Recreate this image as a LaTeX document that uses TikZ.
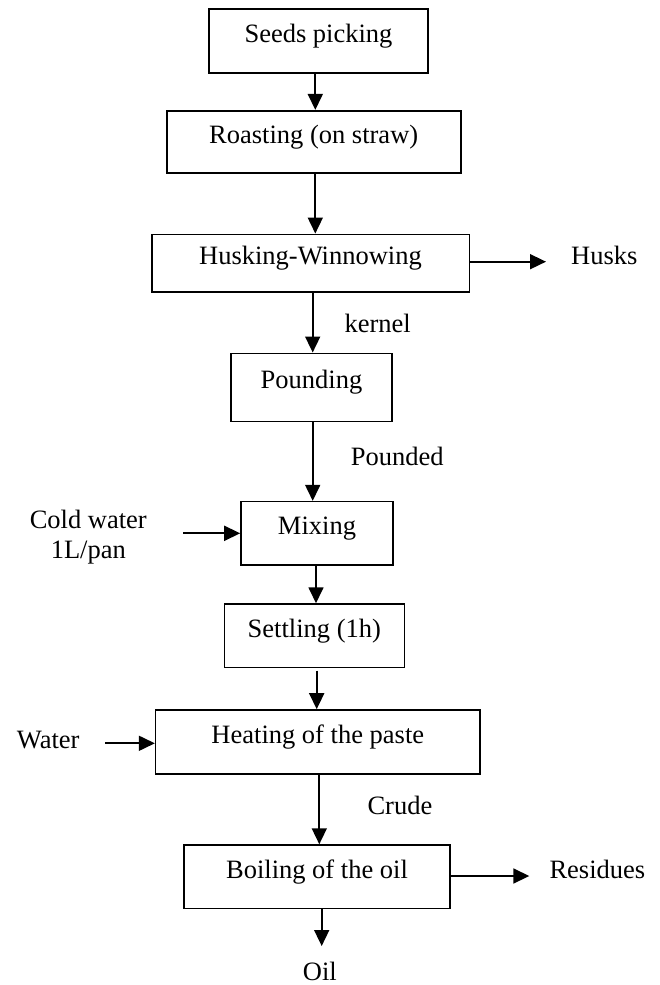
\documentclass[tikz,border=0pt]{standalone}
\usepackage{fontspec}
\setmainfont{Liberation Serif}
\usetikzlibrary{arrows.meta}
\begin{document}
\begin{tikzpicture}[x=1pt,y=-1pt,
  every node/.style={font=\fontsize{26.5}{30}\selectfont},
  stepbox/.style={draw,line width=1.6pt,inner sep=0pt,
    text height=0.7em,text depth=0.4em},
  note/.style={inner sep=0pt},
  arr/.style={line width=1.7pt,-{Triangle[length=16pt,width=15pt]}}]
\useasboundingbox (0,0) rectangle (659,985);

% process steps
\node[stepbox,minimum width=219pt,minimum height=64pt]   (seeds)  at (318.5,41)   {Seeds picking};
\node[stepbox,minimum width=294pt,minimum height=62pt]   (roast)  at (313.7,141.7) {Roasting (on straw)};
\node[stepbox,minimum width=317.6pt,minimum height=57.7pt] (husk) at (310.5,263.2) {Husking-Winnowing};
\node[stepbox,minimum width=161pt,minimum height=68pt]   (pound)  at (311.5,387.3) {Pounding};
\node[stepbox,minimum width=152pt,minimum height=63.3pt] (mix)    at (317,533.3)  {Mixing};
\node[stepbox,minimum width=180pt,minimum height=63.3pt] (settle) at (314.3,635.7) {Settling (1h)};
\node[stepbox,minimum width=324.3pt,minimum height=64pt] (heat)   at (317.8,742)  {Heating of the paste};
\node[stepbox,minimum width=266pt,minimum height=63.3pt] (boil)   at (317,876.7)  {Boiling of the oil};

% inputs, outputs and stream labels
\node[note,anchor=base west] (husks)  at (571,264)    {Husks};
\node[note,anchor=base west] (kernel) at (344.3,332.3) {kernel};
\node[note,anchor=base west] (pounded) at (350.7,465.7) {Pounded};
\node[note,anchor=base] (cold) at (88.3,528.3) {Cold water};
\node[note,anchor=base] (pan)  at (88.3,558.3) {1L/pan};
\node[note,anchor=base west] (water) at (16.7,748.3) {Water};
\node[note,anchor=base west] (crude) at (367.3,814)  {Crude};
\node[note,anchor=base west] (resid) at (549.3,878.3) {Residues};
\node[note,anchor=base west] (oil)   at (302.7,980) {Oil};

% free ends of the side streams
\coordinate (huskend) at (546,261.7);
\coordinate (coldstart) at (183.3,533.3);
\coordinate (waterstart) at (105,743.3);
\coordinate (residend) at (529.3,876);
\coordinate (oilend) at (321.7,946);
\coordinate (settleout) at (316.7,670.7);

% main flow
\draw[arr] ([xshift=-3.2pt]seeds.south) -- ([xshift=-3.2pt]seeds.south |- roast.north);
\draw[arr] ([xshift=1.6pt]roast.south) -- ([xshift=1.6pt]roast.south |- husk.north);
\draw[arr] ([xshift=2.2pt]husk.south) -- ([xshift=2.2pt]husk.south |- pound.north);
\draw[arr] ([xshift=1.2pt]pound.south) -- ([xshift=1.2pt]pound.south |- mix.north);
\draw[arr] ([xshift=-1pt]mix.south) -- ([xshift=-1pt]mix.south |- settle.north);
\draw[arr] (settleout) -- (settleout |- heat.north);
\draw[arr] ([xshift=1.5pt]heat.south) -- ([xshift=1.5pt]heat.south |- boil.north);
\draw[arr] (boil.south -| oilend) -- (oilend);

% side streams
\draw[arr] (husk.east |- huskend) -- (huskend);
\draw[arr] (coldstart) -- (mix.west);
\draw[arr] (waterstart) -- (heat.west |- waterstart);
\draw[arr] (boil.east |- residend) -- (residend);
\end{tikzpicture}
\end{document}
